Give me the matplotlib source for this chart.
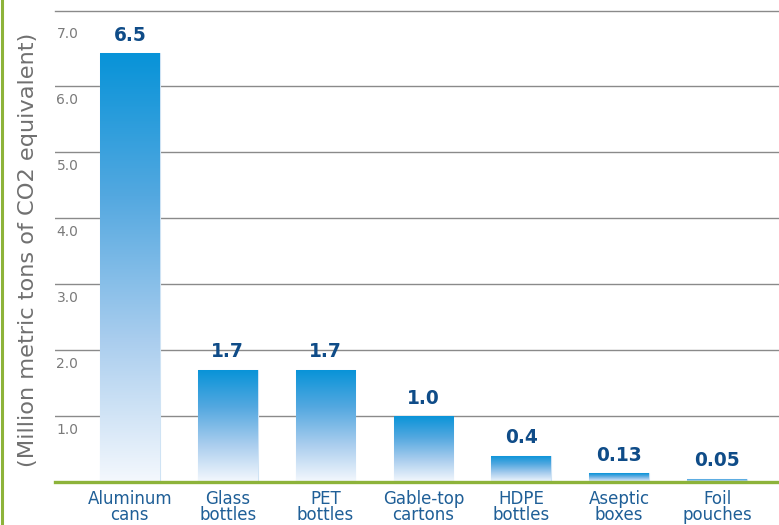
import numpy as np
import matplotlib
matplotlib.use('Agg')
from matplotlib import pyplot as plt
from matplotlib.colors import LinearSegmentedColormap

# Emissions by package type
categories = ['Aluminum\ncans', 'Glass\nbottles', 'PET\nbottles', 'Gable-top\ncartons',
              'HDPE\nbottles', 'Aseptic\nboxes', 'Foil\npouches']
values = [6.5, 1.7, 1.7, 1.0, 0.4, 0.13, 0.05]
value_labels = ['6.5', '1.7', '1.7', '1.0', '0.4', '0.13', '0.05']
y_ticks = [1.0, 2.0, 3.0, 4.0, 5.0, 6.0, 7.0]

plt.rcParams['font.family'] = ['DejaVu Sans']

green = '#8db33a'
grad = LinearSegmentedColormap.from_list('bar', ['#f4f8fd', '#a9cdee', '#53a8e0', '#0793d8'])

fig = plt.figure(figsize=(7.79, 5.25), dpi=100)
ax = fig.add_axes([0.0706, 0.0819, 0.9294, 0.8971])

x = np.arange(len(values))
bars = ax.bar(x, values, width=0.61, color='none', edgecolor='#cfe3f4', linewidth=0.8, zorder=5)

# vertical gradient inside each bar
g = np.linspace(0, 1, 256).reshape(-1, 1)
for b in bars:
    x0, w, h = b.get_x(), b.get_width(), b.get_height()
    im = ax.imshow(g, cmap=grad, aspect='auto', origin='lower',
                   extent=[x0, x0 + w, 0, h], zorder=5)
    im.set_clip_path(b)

for xi, v, s in zip(x, values, value_labels):
    ax.annotate(s, (xi, v), xytext=(0, 6), textcoords='offset points',
                ha='center', va='bottom', fontsize=13.4, fontweight='bold', color='#0f4c88')

ax.set_xlim(-0.765, 6.633)
ax.set_ylim(0, 7.136)

ax.set_yticks([1, 2, 3, 4, 5, 6])
ax.yaxis.grid(True, color='#8a8a8a', linewidth=1.0, zorder=1)
ax.set_axisbelow(True)
ax.tick_params(axis='y', length=0, labelleft=False)
for t in y_ticks:
    ax.text(0.002, t - 0.1, f'{t:.1f}', transform=ax.get_yaxis_transform(),
            ha='left', va='top', fontsize=10, color='#7a7a7a')

ax.set_xticks(x)
ax.set_xticklabels(categories, fontsize=12, color='#1f5f97', linespacing=0.85)
ax.tick_params(axis='x', length=0, pad=6)

for side in ['left', 'right']:
    ax.spines[side].set_visible(False)
ax.spines['top'].set_color('#8a8a8a')
ax.spines['top'].set_linewidth(1.0)
ax.spines['bottom'].set_color(green)
ax.spines['bottom'].set_linewidth(2.4)
ax.spines['bottom'].set_zorder(6)

fig.text(0.036, 0.525, '(Million metric tons of CO2 equivalent)', rotation=90,
         ha='center', va='center', fontsize=16.2, color='#707070')

# green rule along the left edge
fig.add_artist(plt.Line2D([0.003, 0.003], [0, 1], color=green, linewidth=2.2,
                          transform=fig.transFigure))

fig.savefig('out.png', dpi=100)
